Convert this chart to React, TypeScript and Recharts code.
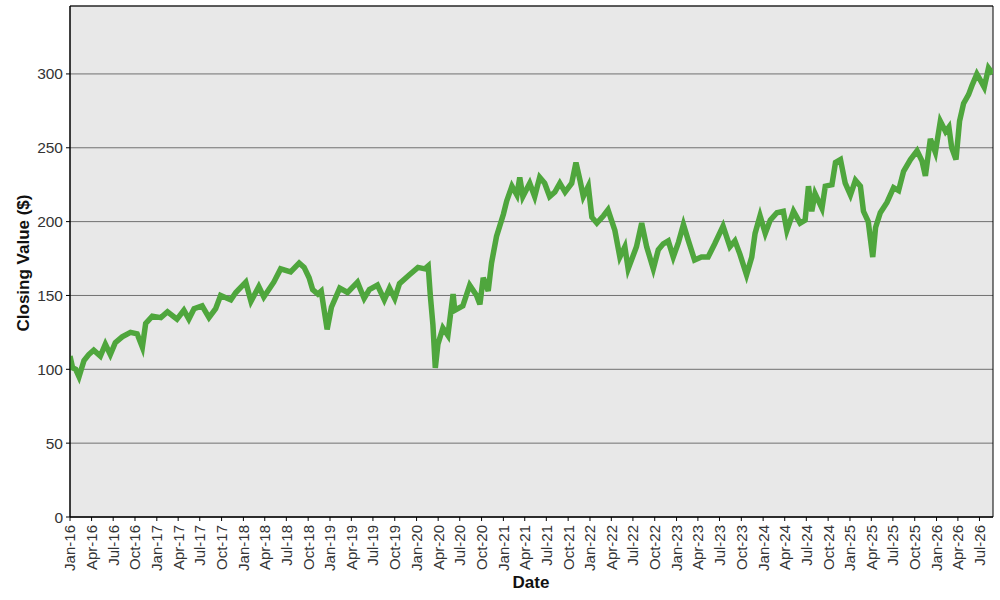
import { LineChart, Line, XAxis, YAxis, CartesianGrid, ReferenceArea } from 'recharts';

// closing values, roughly every 2-4 weeks plus turning points
const dates = [
    '2016-01-01', '2016-01-12', '2016-01-25', '2016-02-08', '2016-02-29', '2016-03-20', '2016-04-10', '2016-05-08',
    '2016-05-29', '2016-06-19', '2016-07-10', '2016-08-08', '2016-09-12', '2016-10-10', '2016-11-01', '2016-11-15',
    '2016-12-13', '2017-01-18', '2017-02-15', '2017-03-27', '2017-04-25', '2017-05-16', '2017-06-07', '2017-07-11',
    '2017-08-09', '2017-09-06', '2017-09-27', '2017-11-09', '2017-11-30', '2018-01-11', '2018-02-02', '2018-03-07',
    '2018-03-28', '2018-05-09', '2018-06-07', '2018-07-19', '2018-08-24', '2018-09-14', '2018-10-05', '2018-10-20',
    '2018-11-11', '2018-11-25', '2018-12-20', '2019-01-07', '2019-02-11', '2019-03-16', '2019-04-27', '2019-05-25',
    '2019-06-16', '2019-07-20', '2019-08-18', '2019-09-09', '2019-10-01', '2019-10-21', '2019-12-02', '2020-01-07',
    '2020-02-05', '2020-02-19', '2020-02-28', '2020-03-10', '2020-03-20', '2020-03-31', '2020-04-21', '2020-05-12',
    '2020-06-03', '2020-06-10', '2020-07-14', '2020-08-12', '2020-09-10', '2020-09-24', '2020-10-08', '2020-10-29',
    '2020-11-12', '2020-12-03', '2021-01-01', '2021-01-15', '2021-02-06', '2021-02-27', '2021-03-11', '2021-03-24',
    '2021-04-22', '2021-05-13', '2021-06-03', '2021-06-24', '2021-07-15', '2021-08-06', '2021-08-27', '2021-09-18',
    '2021-10-16', '2021-11-03', '2021-11-20', '2021-12-04', '2021-12-25', '2022-01-09', '2022-01-30', '2022-02-27',
    '2022-03-18', '2022-04-16', '2022-05-07', '2022-05-28', '2022-06-11', '2022-07-16', '2022-08-07', '2022-08-28',
    '2022-09-25', '2022-10-16', '2022-11-06', '2022-11-27', '2022-12-18', '2023-01-09', '2023-01-30', '2023-02-20',
    '2023-03-18', '2023-04-16', '2023-05-14', '2023-06-11', '2023-07-16', '2023-08-14', '2023-09-04', '2023-09-25',
    '2023-10-23', '2023-11-14', '2023-11-28', '2023-12-19', '2024-01-10', '2024-01-31', '2024-02-28', '2024-03-26',
    '2024-04-10', '2024-05-08', '2024-06-05', '2024-06-26', '2024-07-10', '2024-07-24', '2024-08-07', '2024-09-05',
    '2024-09-19', '2024-10-17', '2024-11-01', '2024-11-22', '2024-12-12', '2025-01-03', '2025-01-24', '2025-02-14',
    '2025-02-27', '2025-03-19', '2025-04-07', '2025-04-19', '2025-05-09', '2025-06-06', '2025-07-04', '2025-07-25',
    '2025-08-15', '2025-09-13', '2025-10-11', '2025-11-01', '2025-11-15', '2025-12-06', '2025-12-27', '2026-01-17',
    '2026-02-08', '2026-02-22', '2026-03-06', '2026-03-24', '2026-04-08', '2026-04-25', '2026-05-16', '2026-05-30',
    '2026-06-20', '2026-07-04', '2026-07-21', '2026-08-08', '2026-08-26',
];

const closes = [
    109, 101, 100, 95, 106, 110, 113, 109,
    117, 110, 118, 122, 125, 124, 115, 131,
    136, 135, 139, 134, 140, 134, 141, 143,
    135, 141, 150, 147, 152, 159, 146, 156,
    149, 159, 168, 166, 172, 169, 162, 154,
    151, 153, 127, 142, 155, 152, 159, 148,
    154, 157, 147, 155, 148, 158, 164, 169,
    168, 170, 150, 130, 101, 117, 128, 123,
    151, 140, 143, 157, 150, 144, 162, 153,
    172, 190, 205, 214, 224, 218, 230, 217,
    226, 217, 230, 226, 217, 220, 226, 220,
    226, 240, 228, 217, 224, 203, 199, 204,
    208, 194, 176, 183, 168, 183, 199, 183,
    168, 181, 185, 187, 176, 186, 198, 187,
    174, 176, 176, 185, 197, 183, 187, 178,
    164, 176, 192, 204, 192, 201, 206, 207,
    194, 207, 199, 201, 224, 207, 219, 209,
    224, 225, 240, 242, 226, 218, 228, 224,
    207, 200, 176, 196, 206, 213, 223, 221,
    234, 242, 248, 241, 231, 256, 247, 268,
    261, 264, 250, 242, 268, 280, 286, 292,
    300, 296, 291, 304, 300,
];

const tickYears = [16, 17, 18, 19, 20, 21, 22, 23, 24, 25, 26];
const tickMonths = ['Jan', 'Apr', 'Jul', 'Oct'];
const yTicks = [0, 50, 100, 150, 200, 250, 300];

const START = Date.UTC(2016, 0, 1);
const END = Date.UTC(2026, 7, 27);
const FONT = '"Liberation Sans", Arial, sans-serif';

const data = dates.map((d, i) => ({ t: Date.parse(d), v: closes[i] }));

const xTicks: number[] = [];
const xLabels: Record<number, string> = {};
tickYears.forEach(y => {
    tickMonths.forEach((m, q) => {
        const t = Date.UTC(2000 + y, q * 3, 1);
        if (t <= END) {
            xTicks.push(t);
            xLabels[t] = `${m}-${y}`;
        }
    });
});

function XTick(props: any) {
    const { x, y, payload } = props;
    return (
        <text
            x={x}
            y={y + 2}
            dy="0.36em"
            transform={`rotate(-90, ${x}, ${y + 2})`}
            textAnchor="end"
            fill="#333"
            fontSize={15}
            fontFamily={FONT}
        >
            {xLabels[payload.value]}
        </text>
    );
}

export default function App() {
    return (
        <div style={{ position: 'absolute', left: 0, top: 0, width: 1000, height: 600, background: '#fff', fontFamily: FONT }}>
            <LineChart width={1000} height={600} data={data} margin={{ top: 6, right: 7, left: 0, bottom: 0 }}>
                <CartesianGrid vertical={false} fill="#e8e8e8" fillOpacity={1} stroke="#707070" />
                <XAxis
                    type="number"
                    dataKey="t"
                    domain={[START, END]}
                    ticks={xTicks}
                    interval={0}
                    tick={<XTick />}
                    tickSize={4}
                    height={83}
                    stroke="#000"
                    allowDataOverflow
                />
                <YAxis
                    domain={[0, 346]}
                    ticks={yTicks}
                    interval={0}
                    width={70}
                    tickSize={4}
                    tickMargin={3}
                    stroke="#000"
                    tick={{ fill: '#333', fontSize: 15.5, fontFamily: FONT }}
                    allowDataOverflow
                />
                <ReferenceArea x1={START} x2={END} y1={0} y2={346} fill="none" stroke="#000" strokeWidth={1} />
                <Line
                    type="linear"
                    dataKey="v"
                    stroke="#4fa63d"
                    strokeWidth={5.5}
                    dot={false}
                    activeDot={false}
                    isAnimationActive={false}
                />
            </LineChart>
            <div
                style={{
                    position: 'absolute', left: 24, top: 263, transform: 'translate(-50%, -50%) rotate(-90deg)',
                    whiteSpace: 'nowrap', fontWeight: 'bold', fontSize: 17, color: '#111',
                }}
            >
                Closing Value ($)
            </div>
            <div
                style={{
                    position: 'absolute', left: 531, top: 574, transform: 'translateX(-50%)',
                    whiteSpace: 'nowrap', fontWeight: 'bold', fontSize: 17, lineHeight: '17px', color: '#111',
                }}
            >
                Date
            </div>
        </div>
    );
}
